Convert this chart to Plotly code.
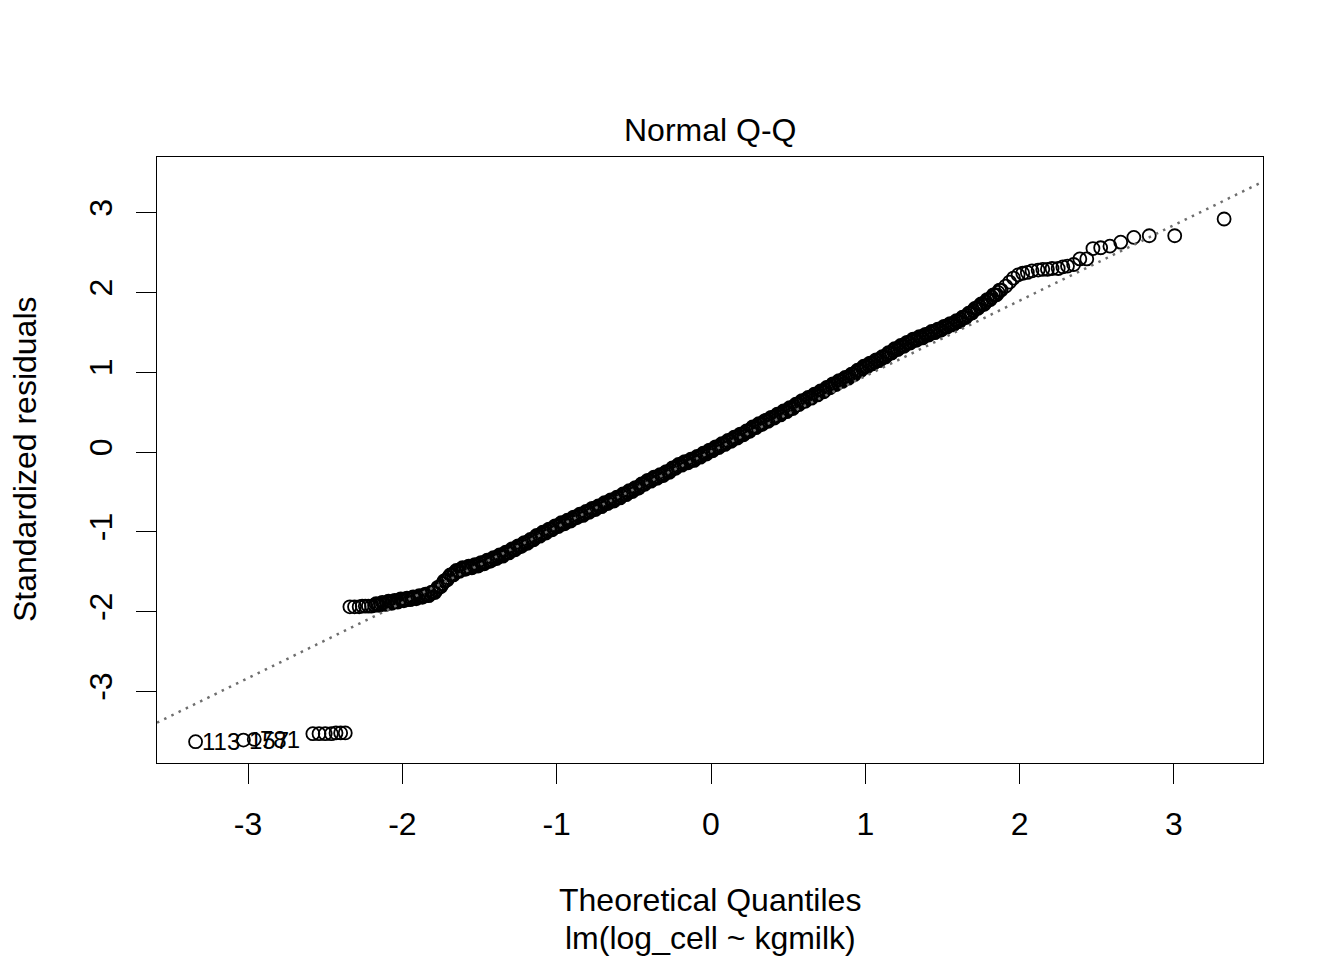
import plotly.graph_objects as go

# ---- data (theoretical quantile, standardized residual) ----
theoretical_q = [
    -3.34, -3.03, -2.96,
    -2.58, -2.54, -2.50, -2.46, -2.43, -2.40, -2.37,
    -2.34, -2.31, -2.28, -2.26, -2.24, -2.22, -2.20,
    -2.18, -2.16, -2.14, -2.12, -2.10, -2.08, -2.06, -2.04, -2.02, -2.00,
    -1.98, -1.96, -1.94, -1.92, -1.90, -1.88, -1.86, -1.84, -1.82, -1.80,
    -1.78, -1.76, -1.74, -1.72, -1.70, -1.68, -1.66, -1.64, -1.62, -1.60,
    -1.58, -1.56, -1.54, -1.52, -1.50, -1.48, -1.46, -1.44, -1.42, -1.40,
    -1.38, -1.36, -1.34, -1.32, -1.30, -1.28, -1.26, -1.24, -1.22, -1.20,
    -1.18, -1.16, -1.14, -1.12, -1.10, -1.08, -1.06, -1.04, -1.02, -1.00,
    -0.98, -0.96, -0.94, -0.92, -0.90, -0.88, -0.86, -0.84, -0.82, -0.80,
    -0.78, -0.76, -0.74, -0.72, -0.70, -0.68, -0.66, -0.64, -0.62, -0.60,
    -0.58, -0.56, -0.54, -0.52, -0.50, -0.48, -0.46, -0.44, -0.42, -0.40,
    -0.38, -0.36, -0.34, -0.32, -0.30, -0.28, -0.26, -0.24, -0.22, -0.20,
    -0.18, -0.16, -0.14, -0.12, -0.10, -0.08, -0.06, -0.04, -0.02, 0.00,
    0.02, 0.04, 0.06, 0.08, 0.10, 0.12, 0.14, 0.16, 0.18, 0.20,
    0.22, 0.24, 0.26, 0.28, 0.30, 0.32, 0.34, 0.36, 0.38, 0.40,
    0.42, 0.44, 0.46, 0.48, 0.50, 0.52, 0.54, 0.56, 0.58, 0.60,
    0.62, 0.64, 0.66, 0.68, 0.70, 0.72, 0.74, 0.76, 0.78, 0.80,
    0.82, 0.84, 0.86, 0.88, 0.90, 0.92, 0.94, 0.96, 0.98, 1.00,
    1.02, 1.04, 1.06, 1.08, 1.10, 1.12, 1.14, 1.16, 1.18, 1.20,
    1.22, 1.24, 1.26, 1.28, 1.30, 1.32, 1.34, 1.36, 1.38, 1.40,
    1.42, 1.44, 1.46, 1.48, 1.50, 1.52, 1.54, 1.56, 1.58, 1.60,
    1.62, 1.64, 1.66, 1.68, 1.70, 1.72, 1.74, 1.76, 1.78, 1.80,
    1.82, 1.84, 1.86, 1.88,
    1.91, 1.935, 1.96, 1.99, 2.02, 2.05, 2.08, 2.12, 2.15, 2.18,
    2.21, 2.25, 2.28, 2.31, 2.35, 2.39, 2.435, 2.475, 2.525, 2.585,
    2.655, 2.74, 2.84, 3.005, 3.325,
]

std_resid = [
    -3.63, -3.61, -3.60,
    -3.53, -3.53, -3.53, -3.53, -3.52, -3.52, -3.52,
    -1.94, -1.94, -1.94, -1.93, -1.93, -1.93, -1.93,
    -1.92, -1.91, -1.90, -1.90, -1.89, -1.88, -1.88, -1.87, -1.86, -1.85,
    -1.85, -1.84, -1.83, -1.83, -1.82, -1.81, -1.80, -1.79, -1.78, -1.76,
    -1.73, -1.69, -1.65, -1.61, -1.57, -1.54, -1.51, -1.49, -1.47, -1.46,
    -1.45, -1.44, -1.43, -1.42, -1.41, -1.39, -1.38, -1.36, -1.35, -1.33,
    -1.31, -1.30, -1.28, -1.26, -1.24, -1.22, -1.20, -1.18, -1.16, -1.14,
    -1.12, -1.10, -1.07, -1.05, -1.03, -1.01, -0.99, -0.97, -0.95, -0.93,
    -0.91, -0.89, -0.88, -0.86, -0.84, -0.82, -0.80, -0.79, -0.77, -0.75,
    -0.73, -0.71, -0.70, -0.68, -0.66, -0.64, -0.62, -0.61, -0.59, -0.57,
    -0.55, -0.53, -0.51, -0.49, -0.47, -0.45, -0.43, -0.40, -0.38, -0.36,
    -0.34, -0.32, -0.31, -0.29, -0.27, -0.25, -0.23, -0.20, -0.18, -0.16,
    -0.14, -0.13, -0.11, -0.10, -0.08, -0.06, -0.04, -0.02, 0.00, 0.02,
    0.04, 0.06, 0.08, 0.10, 0.12, 0.14, 0.16, 0.18, 0.20, 0.22,
    0.24, 0.26, 0.29, 0.31, 0.33, 0.35, 0.37, 0.39, 0.41, 0.43,
    0.45, 0.47, 0.49, 0.51, 0.53, 0.55, 0.57, 0.60, 0.62, 0.64,
    0.66, 0.68, 0.70, 0.72, 0.74, 0.76, 0.78, 0.81, 0.83, 0.85,
    0.87, 0.89, 0.91, 0.93, 0.95, 0.97, 1.00, 1.02, 1.05, 1.07,
    1.09, 1.11, 1.13, 1.15, 1.17, 1.19, 1.22, 1.24, 1.27, 1.29,
    1.31, 1.33, 1.35, 1.37, 1.39, 1.41, 1.42, 1.44, 1.45, 1.47,
    1.49, 1.50, 1.52, 1.53, 1.55, 1.57, 1.59, 1.60, 1.62, 1.64,
    1.66, 1.69, 1.71, 1.74, 1.77, 1.80, 1.83, 1.85, 1.88, 1.91,
    1.94, 1.97, 2.00, 2.03,
    2.08, 2.13, 2.18, 2.22, 2.24, 2.25, 2.27, 2.28, 2.29, 2.29,
    2.30, 2.30, 2.32, 2.33, 2.35, 2.42, 2.42, 2.55, 2.56, 2.58,
    2.63, 2.69, 2.71, 2.71, 2.92,
]

# further observations inside the dense band (upper / lower edge of the band)
band_q = [
    -2.17, -2.15, -2.13, -2.11, -2.09, -2.07, -2.05, -2.03, -2.01, -1.99,
    -1.97, -1.95, -1.93, -1.91, -1.89, -1.87, -1.85, -1.83, -1.81, -1.79,
    -1.77, -1.75, -1.73, -1.71, -1.69, -1.67, -1.65, -1.63, -1.61, -1.59,
    -1.57, -1.55, -1.53, -1.51, -1.49, -1.47, -1.45, -1.43, -1.41, -1.39,
    -1.37, -1.35, -1.33, -1.31, -1.29, -1.27, -1.25, -1.23, -1.21, -1.19,
    -1.17, -1.15, -1.13, -1.11, -1.09, -1.07, -1.05, -1.03, -1.01, -0.99,
    -0.97, -0.95, -0.93, -0.91, -0.89, -0.87, -0.85, -0.83, -0.81, -0.79,
    -0.77, -0.75, -0.73, -0.71, -0.69, -0.67, -0.65, -0.63, -0.61, -0.59,
    -0.57, -0.55, -0.53, -0.51, -0.49, -0.47, -0.45, -0.43, -0.41, -0.39,
    -0.37, -0.35, -0.33, -0.31, -0.29, -0.27, -0.25, -0.23, -0.21, -0.19,
    -0.17, -0.15, -0.13, -0.11, -0.09, -0.07, -0.05, -0.03, -0.01, 0.01,
    0.03, 0.05, 0.07, 0.09, 0.11, 0.13, 0.15, 0.17, 0.19, 0.21,
    0.23, 0.25, 0.27, 0.29, 0.31, 0.33, 0.35, 0.37, 0.39, 0.41,
    0.43, 0.45, 0.47, 0.49, 0.51, 0.53, 0.55, 0.57, 0.59, 0.61,
    0.63, 0.65, 0.67, 0.69, 0.71, 0.73, 0.75, 0.77, 0.79, 0.81,
    0.83, 0.85, 0.87, 0.89, 0.91, 0.93, 0.95, 0.97, 0.99, 1.01,
    1.03, 1.05, 1.07, 1.09, 1.11, 1.13, 1.15, 1.17, 1.19, 1.21,
    1.23, 1.25, 1.27, 1.29, 1.31, 1.33, 1.35, 1.37, 1.39, 1.41,
    1.43, 1.45, 1.47, 1.49, 1.51, 1.53, 1.55, 1.57, 1.59, 1.61,
    1.63, 1.65, 1.67, 1.69, 1.71, 1.73, 1.75, 1.77, 1.79, 1.81,
    1.83, 1.85, 1.87,
]

band_resid = [
    -1.900, -1.920, -1.885, -1.910, -1.870, -1.895, -1.860, -1.880, -1.840, -1.865,
    -1.830, -1.850, -1.815, -1.840, -1.800, -1.820, -1.780, -1.800, -1.755, -1.760,
    -1.695, -1.685, -1.615, -1.605, -1.540, -1.540, -1.485, -1.495, -1.450, -1.470,
    -1.430, -1.450, -1.410, -1.430, -1.385, -1.400, -1.355, -1.370, -1.325, -1.335,
    -1.290, -1.305, -1.255, -1.265, -1.215, -1.225, -1.175, -1.185, -1.135, -1.145,
    -1.095, -1.100, -1.045, -1.055, -1.005, -1.015, -0.965, -0.975, -0.925, -0.935,
    -0.885, -0.900, -0.855, -0.865, -0.815, -0.825, -0.780, -0.795, -0.745, -0.755,
    -0.705, -0.720, -0.675, -0.685, -0.635, -0.645, -0.600, -0.615, -0.565, -0.575,
    -0.525, -0.535, -0.485, -0.495, -0.445, -0.455, -0.400, -0.405, -0.355, -0.365,
    -0.315, -0.330, -0.285, -0.295, -0.245, -0.255, -0.200, -0.205, -0.155, -0.165,
    -0.120, -0.135, -0.090, -0.105, -0.055, -0.065, -0.015, -0.025, 0.025, 0.015,
    0.065, 0.055, 0.105, 0.095, 0.145, 0.135, 0.185, 0.175, 0.225, 0.215,
    0.265, 0.260, 0.315, 0.305, 0.355, 0.345, 0.395, 0.385, 0.435, 0.425,
    0.475, 0.465, 0.515, 0.505, 0.555, 0.545, 0.600, 0.595, 0.645, 0.635,
    0.685, 0.675, 0.725, 0.715, 0.765, 0.755, 0.810, 0.805, 0.855, 0.845,
    0.895, 0.885, 0.935, 0.925, 0.975, 0.970, 1.025, 1.020, 1.075, 1.065,
    1.115, 1.105, 1.155, 1.145, 1.195, 1.190, 1.245, 1.240, 1.295, 1.285,
    1.335, 1.325, 1.375, 1.365, 1.415, 1.400, 1.445, 1.430, 1.475, 1.465,
    1.510, 1.495, 1.540, 1.525, 1.575, 1.565, 1.610, 1.595, 1.645, 1.635,
    1.690, 1.685, 1.740, 1.740, 1.800, 1.800, 1.855, 1.850, 1.910, 1.910,
    1.970, 1.970, 2.030,
]

# labelled (most extreme) observations: index into the arrays above, and their ids
label_index = [0, 1, 2]
label_text = ["113", "157", "781"]

# reference line (qqline through the quartiles)
qqline_intercept = 0.005
qqline_slope = 0.946

x_ticks = [-3, -2, -1, 0, 1, 2, 3]
y_ticks = [-3, -2, -1, 0, 1, 2, 3]
x_range = [-3.590, 3.577]
y_range = [-3.897, 3.697]

title_text = "Normal Q-Q"
x_title = "Theoretical Quantiles"
sub_title = "lm(log_cell ~ kgmilk)"
y_title = "Standardized residuals"

assert len(theoretical_q) == len(std_resid)
assert len(band_q) == len(band_resid)

FONT = "Liberation Sans, Arial, sans-serif"

marker_style = dict(symbol="circle-open", size=13, color="black",
                    line=dict(color="black", width=1.8))

fig = go.Figure()

fig.add_trace(go.Scatter(
    x=band_q, y=band_resid, mode="markers", marker=marker_style,
    hoverinfo="skip", showlegend=False, cliponaxis=False,
))
fig.add_trace(go.Scatter(
    x=theoretical_q, y=std_resid, mode="markers", marker=marker_style,
    hoverinfo="skip", showlegend=False, cliponaxis=False,
))

line_x = [x_range[0], x_range[1]]
line_y = [qqline_intercept + qqline_slope * v for v in line_x]
fig.add_trace(go.Scatter(
    x=line_x, y=line_y, mode="lines",
    line=dict(color="#6e6e6e", width=2.5, dash="2.5px,5.5px"),
    hoverinfo="skip", showlegend=False,
))

annotations = []
for i, t in zip(label_index, label_text):
    annotations.append(dict(
        x=theoretical_q[i], y=std_resid[i], xref="x", yref="y",
        text=t, showarrow=False, xanchor="left", yanchor="middle",
        xshift=4, font=dict(family=FONT, size=24, color="black"),
    ))

annotations += [
    dict(x=0.5, y=1.0446, xref="paper", yref="paper", text=title_text,
         showarrow=False, xanchor="center", yanchor="middle",
         font=dict(family=FONT, size=32, color="black")),
    dict(x=0.5, y=-0.226, xref="paper", yref="paper", text=x_title,
         showarrow=False, xanchor="center", yanchor="middle",
         font=dict(family=FONT, size=32, color="black")),
    dict(x=0.5, y=-0.289, xref="paper", yref="paper", text=sub_title,
         showarrow=False, xanchor="center", yanchor="middle",
         font=dict(family=FONT, size=32, color="black")),
    dict(x=-0.1193, y=0.5017, xref="paper", yref="paper", text=y_title,
         showarrow=False, xanchor="center", yanchor="middle", textangle=-90,
         font=dict(family=FONT, size=32, color="black")),
]

axis_common = dict(
    showgrid=False, zeroline=False, showline=True, mirror=True,
    linecolor="black", linewidth=1.2, ticks="outside", ticklen=20,
    tickwidth=1.2, tickcolor="black",
    tickfont=dict(family=FONT, size=32, color="black"),
)

fig.update_layout(
    width=1344, height=960,
    margin=dict(l=157, r=81, t=157, b=197, pad=0),
    paper_bgcolor="white", plot_bgcolor="white",
    xaxis=dict(range=x_range, tickvals=x_ticks,
               ticktext=[str(v) for v in x_ticks], ticklabelstandoff=12,
               **axis_common),
    yaxis=dict(range=y_range, tickvals=y_ticks,
               ticktext=[str(v) for v in y_ticks], tickangle=-90,
               ticklabelstandoff=11, **axis_common),
    annotations=annotations,
    showlegend=False,
)

fig.write_html("out.html")
